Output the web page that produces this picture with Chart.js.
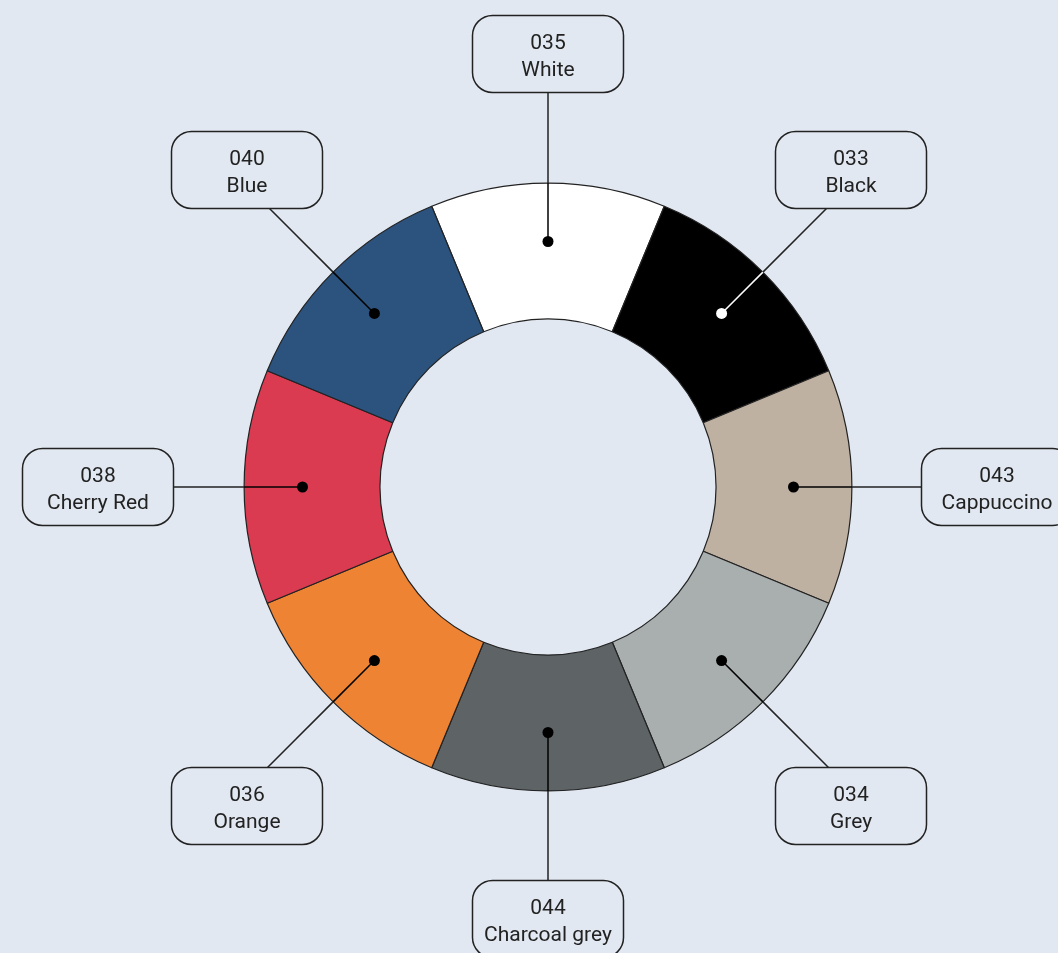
<!DOCTYPE html>
<html>
<head>
<meta charset="utf-8">
<script src="https://cdn.jsdelivr.net/npm/chart.js@4"></script>
<style>
  html, body { margin: 0; padding: 0; background: #e1e8f1; }
  #wrap { width: 1058px; height: 953px; position: relative; }
</style>
</head>
<body>
<div id="wrap"><canvas id="wheel"></canvas></div>
<script>
const CODES  = ['035', '033', '043', '034', '044', '036', '038', '040'];
const NAMES  = ['White', 'Black', 'Cappuccino', 'Grey', 'Charcoal grey', 'Orange', 'Cherry Red', 'Blue'];
const VALUES = [1, 1, 1, 1, 1, 1, 1, 1];
const COLORS = ['#ffffff', '#000000', '#bfb1a2', '#a9aeae', '#5e6366', '#ee8334', '#db3b51', '#2c527e'];

const BG = '#e1e8f1';
const INK = '#222222';

// label box offsets from the wheel centre (layout only)
const BOX_OFFSETS = [
  [0, -433], [303, -317], [449, 0], [303, 319],
  [0, 432], [-301, 319], [-450, 0], [-301, -317],
];
const BOX_W = 151, BOX_H = 77;

function roundRect(ctx, x, y, w, h, r) {
  ctx.beginPath();
  ctx.moveTo(x + r, y);
  ctx.arcTo(x + w, y, x + w, y + h, r);
  ctx.arcTo(x + w, y + h, x, y + h, r);
  ctx.arcTo(x, y + h, x, y, r);
  ctx.arcTo(x, y, x + w, y, r);
  ctx.closePath();
}

// distance along a ray from (x,y) at angle a to the first edge of the box
function hitBox(x, y, a, bx, by) {
  const c = Math.cos(a), s = Math.sin(a);
  let best = Infinity;
  const l = bx - BOX_W / 2, r = bx + BOX_W / 2, t = by - BOX_H / 2, b = by + BOX_H / 2;
  if (Math.abs(c) > 1e-6) {
    [l, r].forEach(ex => {
      const d = (ex - x) / c, yy = y + s * d;
      if (d > 0 && yy >= t && yy <= b) best = Math.min(best, d);
    });
  }
  if (Math.abs(s) > 1e-6) {
    [t, b].forEach(ey => {
      const d = (ey - y) / s, xx = x + c * d;
      if (d > 0 && xx >= l && xx <= r) best = Math.min(best, d);
    });
  }
  return best;
}

const calloutPlugin = {
  id: 'callouts',
  afterDatasetsDraw(chart) {
    const ctx = chart.ctx;
    const meta = chart.getDatasetMeta(0);
    meta.data.forEach((arc, i) => {
      const { x, y, startAngle, endAngle, outerRadius, innerRadius } = arc.getProps(
        ['x', 'y', 'startAngle', 'endAngle', 'outerRadius', 'innerRadius'], true);
      const mid = (startAngle + endAngle) / 2;
      const rDot = innerRadius + (outerRadius - innerRadius) * 0.57;
      const dx = x + Math.cos(mid) * rDot;
      const dy = y + Math.sin(mid) * rDot;
      const ox = x + Math.cos(mid) * outerRadius;
      const oy = y + Math.sin(mid) * outerRadius;
      const bx = x + BOX_OFFSETS[i][0];
      const by = y + BOX_OFFSETS[i][1];
      const rEnd = hitBox(x, y, mid, bx, by);
      const ex = x + Math.cos(mid) * rEnd;
      const ey = y + Math.sin(mid) * rEnd;
      const dotCol = COLORS[i] === '#000000' ? '#ffffff' : '#000000';

      ctx.save();
      ctx.lineWidth = 1.5;
      ctx.strokeStyle = INK;
      ctx.beginPath(); ctx.moveTo(ox, oy); ctx.lineTo(ex, ey); ctx.stroke();
      ctx.strokeStyle = dotCol;
      ctx.beginPath(); ctx.moveTo(dx, dy); ctx.lineTo(ox, oy); ctx.stroke();
      ctx.fillStyle = dotCol;
      ctx.beginPath(); ctx.arc(dx, dy, 5.5, 0, Math.PI * 2); ctx.fill();

      roundRect(ctx, bx - BOX_W / 2, by - BOX_H / 2, BOX_W, BOX_H, 20);
      ctx.fillStyle = BG;
      ctx.fill();
      ctx.strokeStyle = INK;
      ctx.lineWidth = 1.5;
      ctx.stroke();

      ctx.fillStyle = INK;
      ctx.font = '21px Roboto';
      ctx.textAlign = 'center';
      ctx.textBaseline = 'alphabetic';
      ctx.fillText(CODES[i], bx, by - 5);
      ctx.fillText(NAMES[i], bx, by + 21.5);
      ctx.restore();
    });
  }
};

new Chart(document.getElementById('wheel'), {
  type: 'doughnut',
  data: {
    labels: NAMES,
    datasets: [{
      data: VALUES,
      backgroundColor: COLORS,
      borderColor: INK,
      borderWidth: 1.2,
      hoverOffset: 0,
    }],
  },
  options: {
    responsive: true,
    maintainAspectRatio: false,
    animation: false,
    rotation: -22.5,
    cutout: '55.3%',
    layout: { padding: { left: 243.5, right: 205.5, top: 182.5, bottom: 161.5 } },
    plugins: {
      legend: { display: false },
      tooltip: { enabled: false },
    },
  },
  plugins: [calloutPlugin],
});
</script>
</body>
</html>
